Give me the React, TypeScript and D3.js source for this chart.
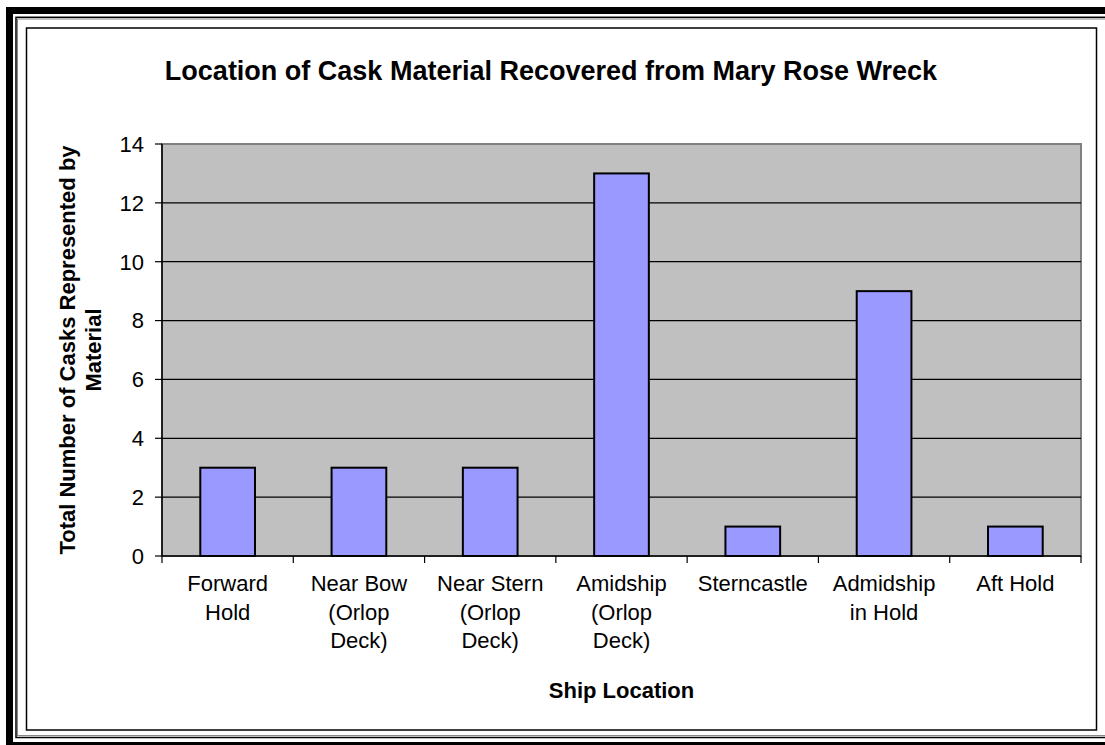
import React from "react";
import * as d3 from "d3";

const categories = [
  ["Forward", "Hold"],
  ["Near Bow", "(Orlop", "Deck)"],
  ["Near Stern", "(Orlop", "Deck)"],
  ["Amidship", "(Orlop", "Deck)"],
  ["Sterncastle"],
  ["Admidship", "in Hold"],
  ["Aft Hold"],
];
const casks = [3, 3, 3, 13, 1, 9, 1];
const yTicks = [0, 2, 4, 6, 8, 10, 12, 14];

const title = "Location of Cask Material Recovered from Mary Rose Wreck";
const yTitle = ["Total Number of Casks Represented by", "Material"];
const xTitle = "Ship Location";

const W = 1105;
const H = 745;
const plot = { left: 162, right: 1081, top: 144, bottom: 556 };
const font = "Arial, 'Liberation Sans', sans-serif";

export default function App() {
  const x = d3
    .scaleBand<number>()
    .domain(casks.map((_, i) => i))
    .range([plot.left, plot.right]);
  const y = d3.scaleLinear().domain([0, 14]).range([plot.bottom, plot.top]);
  const barW = x.bandwidth() / 2.4; // gap width 140%
  const midX = (plot.left + plot.right) / 2;
  const midY = (plot.top + plot.bottom) / 2;

  return (
    <svg
      width={W}
      height={H}
      style={{ position: "absolute", left: 0, top: 0, display: "block" }}
      fontFamily={font}
    >
      <rect width={W} height={H} fill="#fff" />
      {/* outer frame, clipped on the right and bottom */}
      <rect x={9.5} y={10.5} width={1120} height={735} fill="none" stroke="#000" strokeWidth={7} />
      <rect x={16} y={17.3} width={1110} height={720.2} fill="none" stroke="#000" strokeWidth={1.5} />
      <rect x={17.5} y={19} width={1110} height={716.5} fill="none" stroke="#888" strokeWidth={1} />
      <rect x={26.5} y={28} width={1070} height={702} fill="none" stroke="#000" strokeWidth={1.5} />

      <text x={551} y={80} fontSize={27} fontWeight="bold" textAnchor="middle">
        {title}
      </text>

      {/* plot area */}
      <rect
        x={plot.left}
        y={plot.top}
        width={plot.right - plot.left}
        height={plot.bottom - plot.top}
        fill="#c0c0c0"
        stroke="#808080"
        strokeWidth={2}
      />
      {yTicks.slice(1, -1).map((t) => (
        <line key={t} x1={plot.left} x2={plot.right} y1={y(t)} y2={y(t)} stroke="#000" strokeWidth={1.2} />
      ))}

      {casks.map((v, i) => (
        <rect
          key={i}
          x={x(i)! + (x.bandwidth() - barW) / 2}
          y={y(v)}
          width={barW}
          height={y(0) - y(v)}
          fill="#9999ff"
          stroke="#000"
          strokeWidth={2}
        />
      ))}

      {/* axes */}
      <line x1={plot.left} x2={plot.left} y1={plot.top} y2={plot.bottom} stroke="#000" strokeWidth={1.5} />
      <line x1={plot.left} x2={plot.right} y1={plot.bottom} y2={plot.bottom} stroke="#000" strokeWidth={1.5} />
      {yTicks.map((t) => (
        <g key={t}>
          <line x1={plot.left - 7} x2={plot.left} y1={y(t)} y2={y(t)} stroke="#000" strokeWidth={1.2} />
          <text x={plot.left - 18} y={y(t)} dy="0.36em" fontSize={22} textAnchor="end">
            {t}
          </text>
        </g>
      ))}
      {casks.map((_, i) => (
        <line
          key={i}
          x1={x(i)! + x.bandwidth()}
          x2={x(i)! + x.bandwidth()}
          y1={plot.bottom}
          y2={plot.bottom + 7}
          stroke="#000"
          strokeWidth={1.2}
        />
      ))}
      <line x1={plot.left} x2={plot.left} y1={plot.bottom} y2={plot.bottom + 7} stroke="#000" strokeWidth={1.2} />

      {categories.map((lines, i) => (
        <text key={i} x={x(i)! + x.bandwidth() / 2} y={591} fontSize={22} textAnchor="middle">
          {lines.map((l, j) => (
            <tspan key={j} x={x(i)! + x.bandwidth() / 2} dy={j === 0 ? 0 : 28.5}>
              {l}
            </tspan>
          ))}
        </text>
      ))}

      <text x={midX} y={698} fontSize={22} fontWeight="bold" textAnchor="middle">
        {xTitle}
      </text>

      <text transform={`translate(75,${midY}) rotate(-90)`} fontSize={22} fontWeight="bold" textAnchor="middle">
        {yTitle.map((l, j) => (
          <tspan key={j} x={0} dy={j === 0 ? 0 : 26}>
            {l}
          </tspan>
        ))}
      </text>
    </svg>
  );
}
